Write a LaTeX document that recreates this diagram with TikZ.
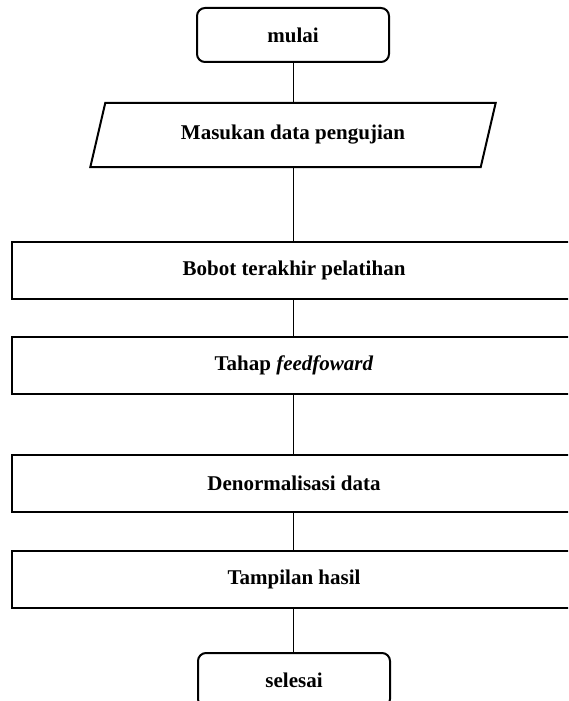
\documentclass[tikz,border=0pt]{standalone}
\usepackage{fontspec}
\setmainfont{Liberation Serif}
\usetikzlibrary{calc}
\tikzset{
  lbl/.style={font=\fontsize{21}{24}\selectfont\bfseries, text=black},
  term/.style={lbl, draw, line width=2pt, rounded corners=8pt, minimum width=192pt, minimum height=54pt, inner sep=0pt},
  procbox/.style={lbl, draw, line width=2pt, minimum width=564pt, minimum height=57pt, inner sep=0pt},
  iobox/.style={lbl, minimum width=390pt, minimum height=64pt, inner sep=0pt},
  conn/.style={line width=0.8pt, black}
}
\begin{document}
\begin{tikzpicture}[x=1pt,y=-1pt]
\clip (0,0) rectangle (568,701);
\fill[white] (0,0) rectangle (568,701);
\node[term] (mulai) at (293,35) {mulai};
\node[iobox] (in) at (293,135) {Masukan data pengujian};
\draw[line width=2pt, line join=miter]
  ($(in.north west)+(7.5,0)$) -- ($(in.north east)+(7.5,0)$) --
  ($(in.south east)+(-7.5,0)$) -- ($(in.south west)+(-7.5,0)$) -- cycle;
\node[procbox] (bobot) at (294,270.5) {Bobot terakhir pelatihan};
\node[procbox] (tahap) at (294,365.5) {Tahap \textit{feedfoward}};
\node[procbox] (denorm) at (294,483) {Denormalisasi data};
\node[procbox] (tampil) at (294,579) {Tampilan hasil};
\node[term] (selesai) at (294,680) {selesai};
\draw[conn] (mulai.south) -- (in.north);
\draw[conn] (in.south) -- (in.south |- bobot.north);
\draw[conn] (in.south |- bobot.south) -- (in.south |- tahap.north);
\draw[conn] (in.south |- tahap.south) -- (in.south |- denorm.north);
\draw[conn] (in.south |- denorm.south) -- (in.south |- tampil.north);
\draw[conn] (in.south |- tampil.south) -- (in.south |- selesai.north);
\end{tikzpicture}
\end{document}
